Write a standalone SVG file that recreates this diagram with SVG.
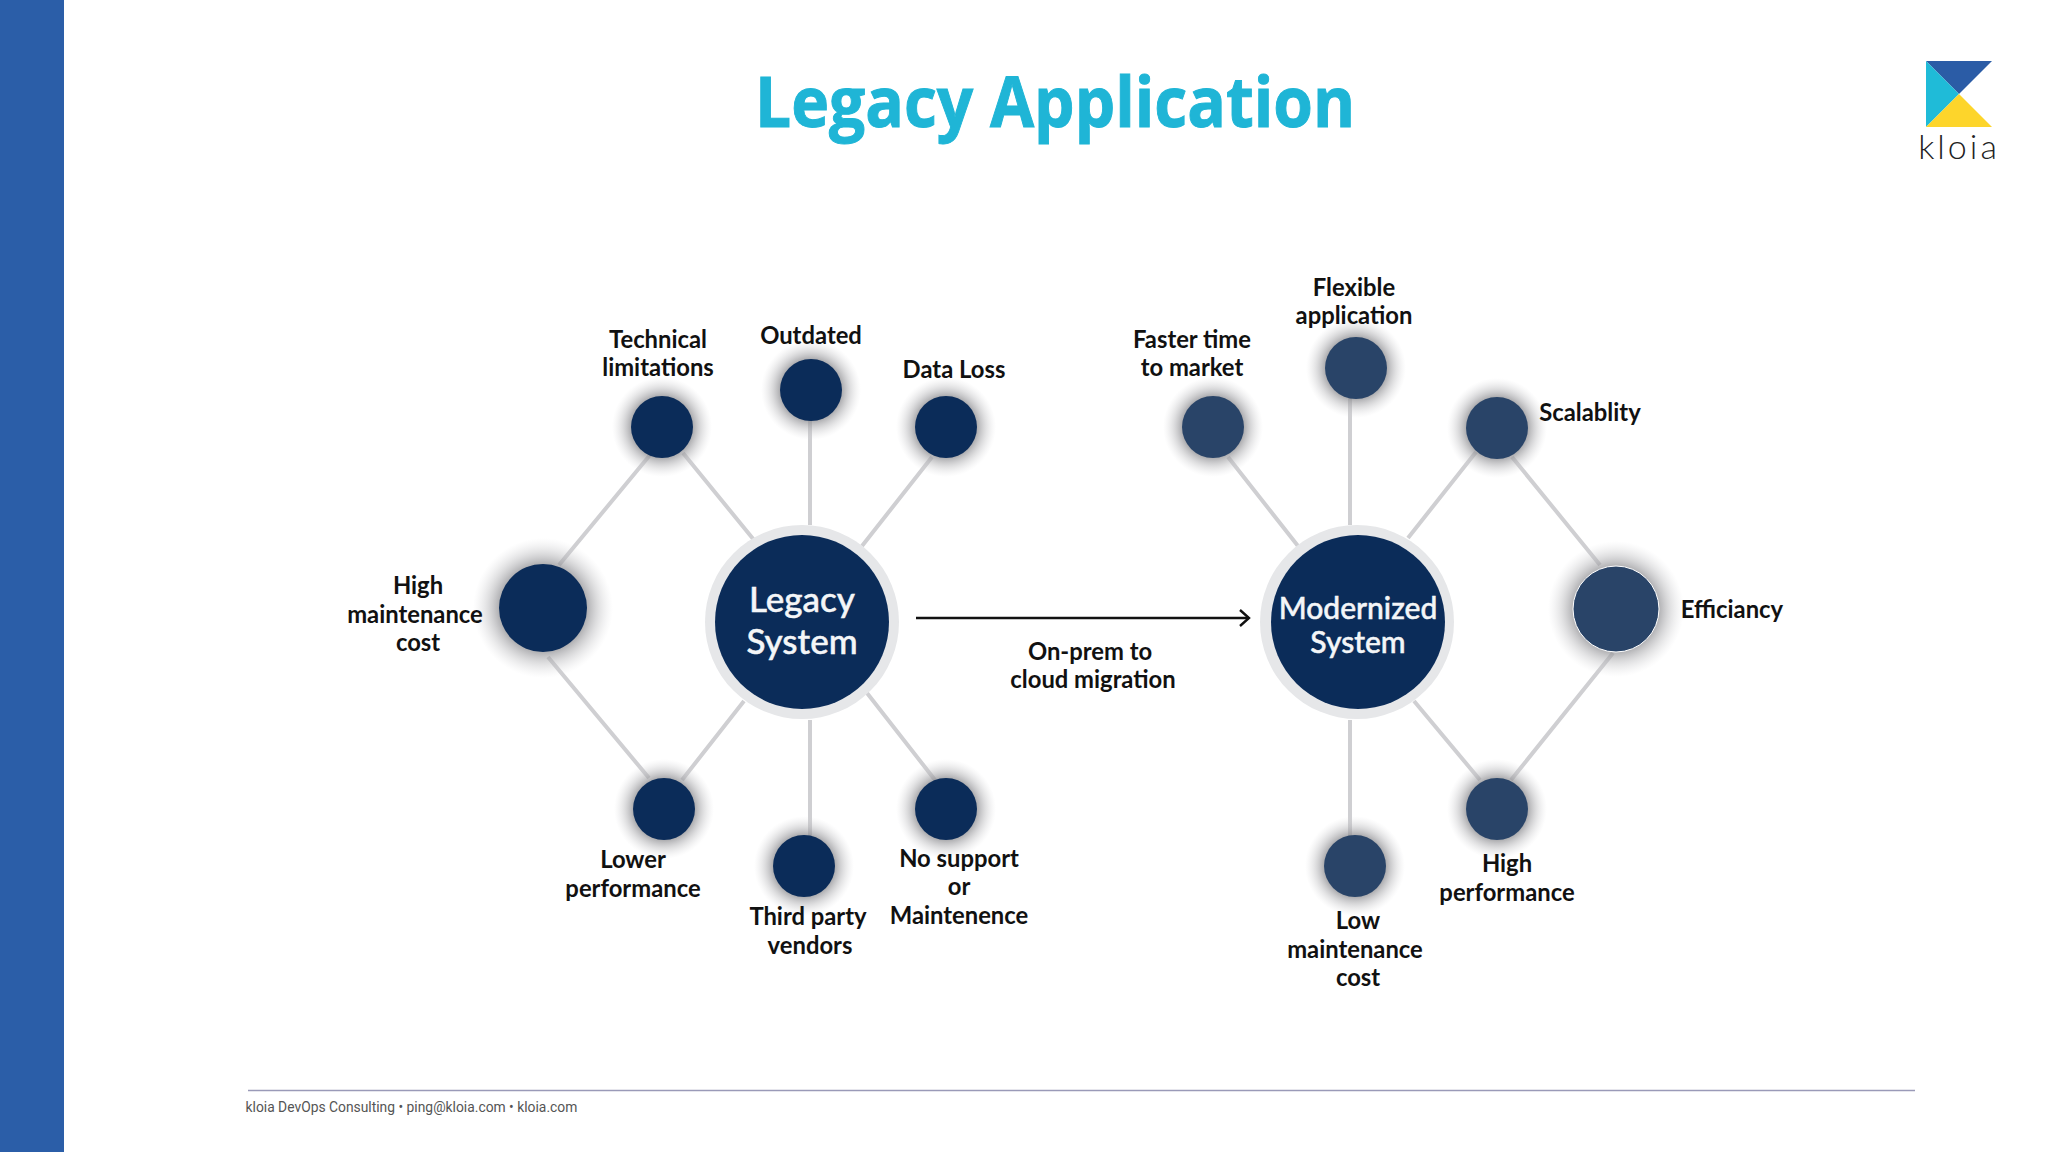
<svg xmlns="http://www.w3.org/2000/svg" width="2048" height="1152" viewBox="0 0 2048 1152">
<style>
.lbl{font-family:Lato,"Liberation Sans",sans-serif;font-weight:700;font-size:23.800px;fill:#111;text-anchor:middle}
.hub{font-family:Lato,"Liberation Sans",sans-serif;font-weight:500;fill:#f4f6f8;stroke:#f4f6f8;stroke-width:0.5;text-anchor:middle}
.con{stroke:#cfcfd2;stroke-width:4;fill:none}
.dark{fill:#0b2c59}
.mid{fill:#294468}
.ring{fill:#e6e7e9}
</style>
<defs>
<radialGradient id="glow"><stop offset="0.62" stop-color="#8a8a8e" stop-opacity="0.7"/><stop offset="0.8" stop-color="#b5b5b8" stop-opacity="0.4"/><stop offset="1" stop-color="#d5d5d8" stop-opacity="0"/></radialGradient>
<marker id="arr" markerWidth="14" markerHeight="18" refX="12" refY="9" orient="auto" markerUnits="userSpaceOnUse"><path d="M3 1L12 9L3 17" fill="none" stroke="#111" stroke-width="2.4"/></marker>
</defs>
<rect width="2048" height="1152" fill="#fff"/>
<rect width="64" height="1152" fill="#2b5ea8"/>
<text x="1055" y="127" font-family="'Open Sans','Liberation Sans',sans-serif" font-weight="700" font-size="70" fill="#1fb5d6" stroke="#1fb5d6" stroke-width="1" text-anchor="middle" textLength="600" lengthAdjust="spacingAndGlyphs">Legacy Application</text>
<g id="logo">
<path d="M1926 61H1992L1959 94Z" fill="#2b5ca6"/>
<path d="M1926 61L1959 94L1926 127Z" fill="#1fbbd8"/>
<path d="M1959 94L1992 127H1926Z" fill="#fdd52b"/>
<text x="1959" y="159" font-family="Lato,'Liberation Sans',sans-serif" font-weight="300" font-size="34" fill="#222" text-anchor="middle" letter-spacing="3">kloia</text>
</g>
<g id="connectors">
<path class="con" d="M559 565L650 455M683 453L754 540M810 400V525M862 546L932 457M548 657L649 778M744 701L682 780M810 720V866M867 693L935 780"/>
<path class="con" d="M1228 457L1298 546M1350 367V525M1408 538L1476 452M1512 457L1600 565M1414 701L1480 780M1613 653L1511 780M1350 720V866"/>
<path d="M916 618H1249" stroke="#111" stroke-width="2.6" fill="none" marker-end="url(#arr)"/>
</g>
<g id="legacy"><circle class="ring" cx="802" cy="622" r="97"/><circle class="dark" cx="802" cy="622" r="87"/><text class="hub" font-size="35" x="802" y="612">Legacy</text><text class="hub" font-size="35" x="802" y="654">System</text></g>
<g id="modernized"><circle class="ring" cx="1357" cy="622" r="97"/><circle class="dark" cx="1358" cy="622" r="87"/><text class="hub" font-size="30" x="1358" y="619">Modernized</text><text class="hub" font-size="30" x="1358" y="653">System</text></g>
<g id="n-tech"><circle fill="url(#glow)" cx="662" cy="427" r="50"/><circle class="dark" cx="662" cy="427" r="31"/><text class="lbl" x="658" y="348">Technical</text><text class="lbl" x="658" y="376">limitations</text></g>
<g id="n-outdated"><circle fill="url(#glow)" cx="811" cy="390" r="50"/><circle class="dark" cx="811" cy="390" r="31"/><text class="lbl" x="811" y="344">Outdated</text></g>
<g id="n-dataloss"><circle fill="url(#glow)" cx="946" cy="427" r="50"/><circle class="dark" cx="946" cy="427" r="31"/><text class="lbl" x="954" y="378">Data Loss</text></g>
<g id="n-himaint"><circle fill="url(#glow)" cx="543" cy="608" r="70"/><circle class="dark" cx="543" cy="608" r="44"/><text class="lbl" x="418" y="594">High</text><text class="lbl" x="415" y="623">maintenance</text><text class="lbl" x="418" y="651">cost</text></g>
<g id="n-lower"><circle fill="url(#glow)" cx="664" cy="809" r="50"/><circle class="dark" cx="664" cy="809" r="31"/><text class="lbl" x="633" y="868">Lower</text><text class="lbl" x="633" y="897">performance</text></g>
<g id="n-third"><circle fill="url(#glow)" cx="804" cy="866" r="50"/><circle class="dark" cx="804" cy="866" r="31"/><text class="lbl" x="808" y="925">Third party</text><text class="lbl" x="810" y="954">vendors</text></g>
<g id="n-nosupport"><circle fill="url(#glow)" cx="946" cy="809" r="50"/><circle class="dark" cx="946" cy="809" r="31"/><text class="lbl" x="959" y="867">No support</text><text class="lbl" x="959" y="895">or</text><text class="lbl" x="959" y="924">Maintenence</text></g>
<g id="n-faster"><circle fill="url(#glow)" cx="1213" cy="427" r="50"/><circle class="mid" cx="1213" cy="427" r="31"/><text class="lbl" x="1192" y="348">Faster time</text><text class="lbl" x="1192" y="376">to market</text></g>
<g id="n-flexible"><circle fill="url(#glow)" cx="1356" cy="368" r="50"/><circle class="mid" cx="1356" cy="368" r="31"/><text class="lbl" x="1354" y="296">Flexible</text><text class="lbl" x="1354" y="324">application</text></g>
<g id="n-scal"><circle fill="url(#glow)" cx="1497" cy="428" r="50"/><circle class="mid" cx="1497" cy="428" r="31"/><text class="lbl" x="1590" y="421">Scalablity</text></g>
<g id="n-eff"><circle fill="url(#glow)" cx="1616" cy="609" r="68"/><circle class="mid" stroke="#fff" stroke-width="1" cx="1616" cy="609" r="43"/><text class="lbl" x="1732" y="618">Efficiancy</text></g>
<g id="n-hiperf"><circle fill="url(#glow)" cx="1497" cy="809" r="50"/><circle class="mid" cx="1497" cy="809" r="31"/><text class="lbl" x="1507" y="872">High</text><text class="lbl" x="1507" y="901">performance</text></g>
<g id="n-low"><circle fill="url(#glow)" cx="1355" cy="866" r="50"/><circle class="mid" cx="1355" cy="866" r="31"/><text class="lbl" x="1358" y="929">Low</text><text class="lbl" x="1355" y="958">maintenance</text><text class="lbl" x="1358" y="986">cost</text></g>
<text class="lbl" x="1090" y="660">On-prem to</text><text class="lbl" x="1093" y="688">cloud migration</text>
<path d="M248 1090.500H1915" stroke="#9a9ab8" stroke-width="1.500"/>
<text x="245.500" y="1112" font-family="Roboto,'Liberation Sans',sans-serif" font-size="13.850" fill="#555">kloia DevOps Consulting • ping@kloia.com • kloia.com</text>
</svg>
